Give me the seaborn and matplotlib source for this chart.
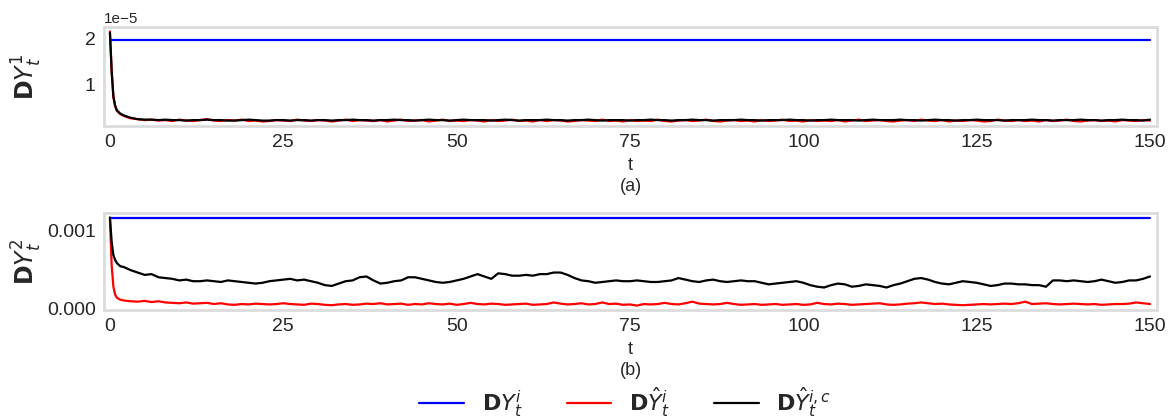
import numpy as np
import pandas as pd
import matplotlib
matplotlib.use("Agg")
import matplotlib.pyplot as plt
import seaborn as sns

# ---------------- data ----------------
early_t = [0, 0.25, 0.5, 0.75, 1, 1.5, 2]
late_t = list(range(3, 151))

# Panel (a): values in units of 1e-5
a_true_level = 1.97
a_hat_early = [2.15, 1.28, 0.73, 0.54, 0.44, 0.37, 0.33]
a_hat_late = [
    0.28, 0.26, 0.24, 0.25, 0.23, 0.24, 0.22, 0.25, 0.23, 0.22,
    0.24, 0.26, 0.23, 0.22, 0.24, 0.23, 0.25, 0.22, 0.23, 0.21,
    0.22, 0.24, 0.23, 0.22, 0.25, 0.23, 0.22, 0.24, 0.23, 0.21,
    0.23, 0.25, 0.22, 0.24, 0.23, 0.22, 0.24, 0.21, 0.23, 0.25,
    0.22, 0.23, 0.24, 0.21, 0.23, 0.25, 0.22, 0.23, 0.22, 0.24,
    0.23, 0.21, 0.24, 0.22, 0.23, 0.25, 0.22, 0.23, 0.21, 0.24,
    0.22, 0.24, 0.23, 0.21, 0.22, 0.24, 0.23, 0.22, 0.25, 0.22,
    0.23, 0.21, 0.24, 0.22, 0.23, 0.22, 0.25, 0.22, 0.21, 0.23,
    0.24, 0.22, 0.23, 0.25, 0.22, 0.21, 0.23, 0.24, 0.22, 0.23,
    0.21, 0.24, 0.22, 0.23, 0.25, 0.22, 0.23, 0.21, 0.24, 0.22,
    0.23, 0.22, 0.24, 0.21, 0.23, 0.25, 0.22, 0.23, 0.24, 0.22,
    0.21, 0.23, 0.24, 0.22, 0.25, 0.23, 0.22, 0.24, 0.21, 0.23,
    0.22, 0.24, 0.23, 0.21, 0.22, 0.25, 0.23, 0.22, 0.24, 0.22,
    0.23, 0.21, 0.24, 0.22, 0.23, 0.25, 0.22, 0.21, 0.23, 0.24,
    0.22, 0.23, 0.21, 0.24, 0.23, 0.22, 0.24, 0.23,
]
a_hatc_early = [2.12, 1.30, 0.75, 0.55, 0.45, 0.38, 0.34]
a_hatc_late = [
    0.29, 0.26, 0.25, 0.25, 0.24, 0.25, 0.24, 0.24, 0.23, 0.24,
    0.24, 0.25, 0.24, 0.24, 0.23, 0.23, 0.24, 0.25, 0.24, 0.23,
    0.23, 0.24, 0.24, 0.23, 0.24, 0.24, 0.23, 0.24, 0.24, 0.23,
    0.24, 0.24, 0.25, 0.24, 0.24, 0.23, 0.24, 0.24, 0.25, 0.24,
    0.24, 0.23, 0.24, 0.25, 0.24, 0.24, 0.23, 0.24, 0.25, 0.24,
    0.24, 0.24, 0.23, 0.24, 0.25, 0.24, 0.23, 0.24, 0.24, 0.24,
    0.25, 0.24, 0.24, 0.23, 0.24, 0.24, 0.25, 0.24, 0.23, 0.24,
    0.24, 0.24, 0.23, 0.24, 0.24, 0.25, 0.24, 0.24, 0.23, 0.24,
    0.24, 0.25, 0.24, 0.24, 0.23, 0.24, 0.24, 0.24, 0.25, 0.24,
    0.24, 0.23, 0.24, 0.24, 0.24, 0.25, 0.24, 0.24, 0.23, 0.24,
    0.24, 0.25, 0.24, 0.24, 0.24, 0.23, 0.24, 0.25, 0.24, 0.24,
    0.24, 0.25, 0.24, 0.24, 0.23, 0.24, 0.25, 0.24, 0.24, 0.23,
    0.24, 0.24, 0.25, 0.24, 0.24, 0.24, 0.23, 0.24, 0.24, 0.24,
    0.25, 0.24, 0.24, 0.23, 0.24, 0.24, 0.24, 0.25, 0.24, 0.24,
    0.23, 0.24, 0.24, 0.25, 0.24, 0.24, 0.23, 0.25,
]

# Panel (b): values in units of 1e-4
b_true_level = 11.47
b_hat_early = [11.5, 5.5, 2.8, 1.8, 1.4, 1.15, 1.05]
b_hat_late = [
    0.95, 0.9, 1.0, 0.85, 0.95, 0.8, 0.75, 0.7, 0.8, 0.65,
    0.7, 0.75, 0.6, 0.7, 0.55, 0.5, 0.6, 0.55, 0.65, 0.6,
    0.55, 0.6, 0.7, 0.6, 0.55, 0.5, 0.65, 0.6, 0.5, 0.45,
    0.55, 0.6, 0.5, 0.55, 0.65, 0.6, 0.7, 0.55, 0.6, 0.65,
    0.5, 0.6, 0.55, 0.7, 0.6, 0.55, 0.65, 0.5, 0.6, 0.75,
    0.6, 0.55, 0.65, 0.6, 0.5, 0.55, 0.6, 0.65, 0.5, 0.55,
    0.6, 0.8, 0.65, 0.55, 0.6, 0.7, 0.55, 0.6, 0.8, 0.6,
    0.65, 0.5, 0.55, 0.4, 0.6, 0.55, 0.6, 0.75, 0.6, 0.55,
    0.7, 0.9, 0.65, 0.6, 0.55, 0.6, 0.75, 0.6, 0.5, 0.55,
    0.6, 0.5, 0.55, 0.6, 0.5, 0.55, 0.6, 0.5, 0.55, 0.75,
    0.6, 0.55, 0.65, 0.6, 0.5, 0.55, 0.6, 0.65, 0.7, 0.55,
    0.5, 0.55, 0.65, 0.7, 0.8, 0.7, 0.6, 0.65, 0.55, 0.5,
    0.45, 0.5, 0.55, 0.6, 0.55, 0.6, 0.65, 0.6, 0.7, 0.9,
    0.6, 0.65, 0.7, 0.6, 0.55, 0.6, 0.65, 0.6, 0.55, 0.6,
    0.5, 0.55, 0.6, 0.6, 0.65, 0.8, 0.7, 0.6,
]
b_hatc_early = [11.6, 8.5, 6.8, 6.2, 5.8, 5.4, 5.3]
b_hatc_late = [
    4.9, 4.6, 4.3, 4.4, 4.0, 3.9, 3.8, 3.6, 3.7, 3.5,
    3.5, 3.6, 3.5, 3.4, 3.6, 3.5, 3.4, 3.3, 3.2, 3.3,
    3.5, 3.6, 3.7, 3.8, 3.6, 3.7, 3.5, 3.3, 3.0, 2.9,
    3.2, 3.5, 3.6, 4.0, 4.1, 3.6, 3.2, 3.3, 3.5, 3.6,
    4.0, 4.0, 3.8, 3.6, 3.4, 3.3, 3.4, 3.6, 3.8, 4.1,
    4.4, 4.1, 3.8, 4.5, 4.4, 4.2, 4.2, 4.3, 4.2, 4.4,
    4.4, 4.6, 4.6, 4.3, 3.9, 3.6, 3.5, 3.3, 3.4, 3.5,
    3.6, 3.5, 3.5, 3.6, 3.5, 3.4, 3.4, 3.5, 3.6, 3.9,
    3.7, 3.5, 3.4, 3.6, 3.7, 3.5, 3.4, 3.5, 3.6, 3.5,
    3.5, 3.3, 3.1, 3.2, 3.3, 3.4, 3.5, 3.3, 3.0, 2.8,
    2.7, 3.0, 3.2, 3.1, 2.8, 2.9, 3.1, 3.0, 2.9, 2.7,
    3.0, 3.2, 3.5, 3.8, 3.9, 3.7, 3.4, 3.2, 3.1, 3.3,
    3.5, 3.4, 3.3, 3.1, 2.9, 3.0, 3.2, 3.2, 3.1, 3.1,
    3.0, 3.0, 2.8, 3.6, 3.6, 3.5, 3.6, 3.5, 3.4, 3.5,
    3.7, 3.5, 3.3, 3.4, 3.6, 3.6, 3.8, 4.1,
]

labels = [r"$\mathbf{D}Y_t^i$", r"$\mathbf{D}\hat{Y}_t^i$", r"$\mathbf{D}\hat{Y}_t^{i,c}$"]
colors = ["#0000ff", "#ff0000", "#000000"]

# ---------------- build tidy frames ----------------
t_all = early_t + late_t


def panel_frame(level, hat, hatc, scale):
    rows = []
    for tt in [0, 150]:
        rows.append((tt, level * scale, labels[0]))
    for tt, v in zip(t_all, hat):
        rows.append((tt, v * scale, labels[1]))
    for tt, v in zip(t_all, hatc):
        rows.append((tt, v * scale, labels[2]))
    return pd.DataFrame(rows, columns=["t", "value", "series"])


df_a = panel_frame(a_true_level, a_hat_early + a_hat_late, a_hatc_early + a_hatc_late, 1e-5)
df_b = panel_frame(b_true_level, b_hat_early + b_hat_late, b_hatc_early + b_hatc_late, 1e-4)

# ---------------- style ----------------
sns.set_theme(style="whitegrid")
plt.rcParams["font.family"] = ["Liberation Sans", "DejaVu Sans"]
plt.rcParams["mathtext.fontset"] = "dejavusans"

fig = plt.figure(figsize=(11.69, 4.19), dpi=100)
ax1 = fig.add_axes([0.089, 0.6993, 0.9007, 0.2363])
ax2 = fig.add_axes([0.089, 0.2601, 0.9007, 0.2315])

palette = dict(zip(labels, colors))
for ax, df, sub in [(ax1, df_a, "(a)"), (ax2, df_b, "(b)")]:
    sns.lineplot(data=df, x="t", y="value", hue="series", hue_order=labels,
                 palette=palette, linewidth=1.6, ax=ax, legend=(ax is ax2),
                 estimator=None, sort=True)
    ax.grid(False)
    ax.set_xlim(-0.85, 151.0)
    ax.set_xticks([0, 25, 50, 75, 100, 125, 150])
    ax.tick_params(labelsize=14, pad=6, length=0)
    ax.set_xlabel("t\n" + sub, fontsize=13, labelpad=4, linespacing=1.3)
    for s in ax.spines.values():
        s.set_color("#dcdcdc")
        s.set_linewidth(2.0)

ax1.set_yticks([1e-5, 2e-5])
ax1.yaxis.get_offset_text().set_fontsize(11)
ax1.set_ylabel(r"$\mathbf{D}Y_t^1$", fontsize=17)
ax2.set_yticks([0.0, 0.001])
ax2.yaxis.set_major_formatter(matplotlib.ticker.FormatStrFormatter("%.3f"))
ax2.set_ylabel(r"$\mathbf{D}Y_t^2$", fontsize=17)
for ax in (ax1, ax2):
    ax.yaxis.set_label_coords(-0.057, 0.5)

handles, labs = ax2.get_legend_handles_labels()
ax2.get_legend().remove()
fig.legend(handles, labs, loc="center", bbox_to_anchor=(0.535, 0.04), ncol=3,
           frameon=False, fontsize=16, handlelength=2.0, columnspacing=2.0,
           handletextpad=0.8)

fig.savefig("out.png", dpi=100)
